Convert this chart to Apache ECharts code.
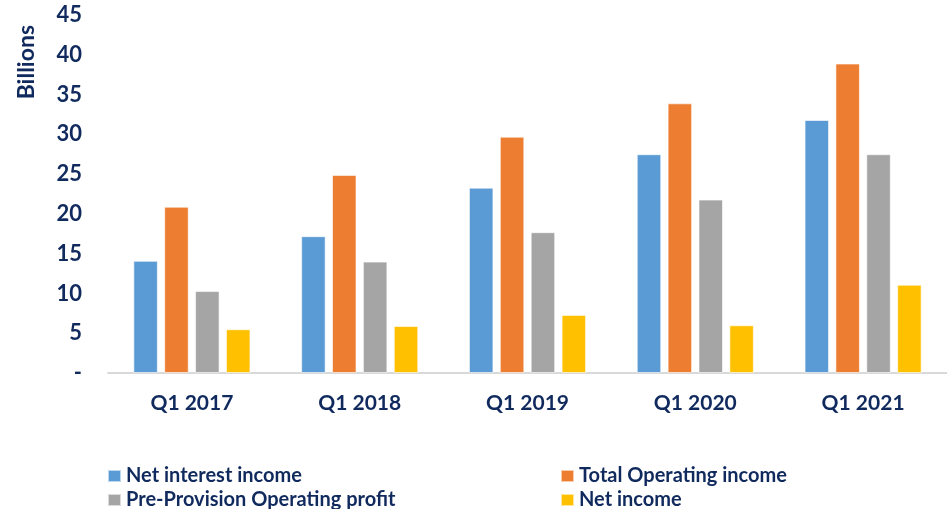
<!DOCTYPE html>
<html>
<head>
<meta charset="utf-8">
<script src="https://cdn.jsdelivr.net/npm/echarts@6/dist/echarts.min.js"></script>
<style>
  html, body { margin: 0; padding: 0; background: #fff; }
  #chart { width: 947px; height: 509px; }
</style>
</head>
<body>
<div id="chart"></div>
<script>
const categories = ['Q1 2017', 'Q1 2018', 'Q1 2019', 'Q1 2020', 'Q1 2021']
const netInterestIncome = [14.1, 17.2, 23.3, 27.5, 31.8]
const totalOperatingIncome = [20.9, 24.9, 29.7, 33.9, 38.9]
const preProvisionProfit = [10.3, 14.0, 17.7, 21.8, 27.5]
const netIncome = [5.5, 5.9, 7.3, 6.0, 11.1]
const yTicks = { min: 0, max: 45, interval: 5 }

const navy = '#112a5e'
const font = 'Lato, "Liberation Sans", sans-serif'

const chart = echarts.init(document.getElementById('chart'))

function bar (name, data, color) {
  return {
    name: name,
    type: 'bar',
    data: data,
    barWidth: 24.5,
    barGap: '26%',
    itemStyle: { color: color, borderColor: 'rgba(255,255,255,0.6)', borderWidth: 1 }
  }
}

const legendText = { color: navy, fontSize: 20, fontWeight: 'bold', fontFamily: font }

chart.setOption({
  animation: false,
  grid: { left: 108, width: 850, top: 15, bottom: 136 },
  legend: [{
    left: 102, top: 461, height: 60, orient: 'vertical', itemGap: 4,
    icon: 'rect', itemWidth: 13, itemHeight: 12,
    textStyle: legendText,
    data: ['Net interest income', 'Pre-Provision Operating profit']
  }, {
    left: 555, top: 461, height: 60, orient: 'vertical', itemGap: 4,
    icon: 'rect', itemWidth: 13, itemHeight: 12,
    textStyle: legendText,
    data: ['Total Operating income', 'Net income']
  }],
  graphic: [{
    type: 'text',
    left: 15, top: 25,
    rotation: Math.PI / 2,
    style: { text: 'Billions', fill: navy, font: 'bold 23px ' + font }
  }],
  xAxis: {
    type: 'category',
    data: categories,
    axisTick: { show: false },
    axisLine: { lineStyle: { color: '#d9d9d9', width: 2 } },
    axisLabel: { color: navy, fontSize: 21, fontWeight: 'bold', fontFamily: font, margin: 20 }
  },
  yAxis: {
    type: 'value',
    min: yTicks.min,
    max: yTicks.max,
    interval: yTicks.interval,
    splitLine: { show: false },
    axisLine: { show: false },
    axisLabel: {
      color: navy, fontSize: 22, fontWeight: 'bold', fontFamily: font, margin: 26,
      formatter: v => v === 0 ? '-' : String(v)
    }
  },
  series: [
    bar('Net interest income', netInterestIncome, '#5b9bd5'),
    bar('Total Operating income', totalOperatingIncome, '#ed7d31'),
    bar('Pre-Provision Operating profit', preProvisionProfit, '#a5a5a5'),
    bar('Net income', netIncome, '#ffc000')
  ]
})
</script>
</body>
</html>
